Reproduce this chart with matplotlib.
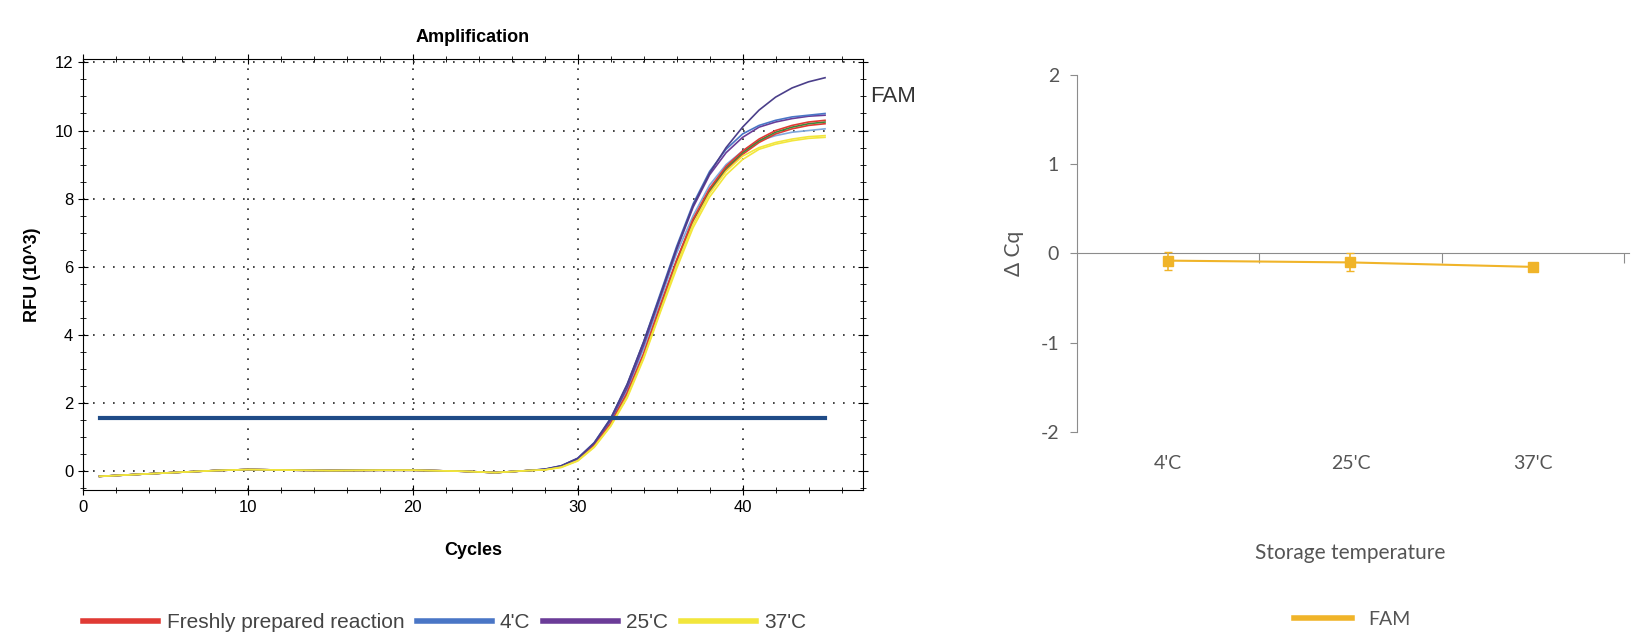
import matplotlib
matplotlib.use('Agg')
import matplotlib.pyplot as plt
from matplotlib.lines import Line2D
from matplotlib.ticker import MultipleLocator

plt.rcParams['font.family'] = ['Liberation Sans', 'DejaVu Sans']
plt.rcParams['axes.unicode_minus'] = False

# amplification curves, RFU (10^3) read at these cycles
cycles = [1, 3, 5, 8, 10, 13, 15, 18, 20, 23, 25, 27, 28, 29, 30, 31, 32, 33, 34, 35,
          36, 37, 38, 39, 40, 41, 42, 43, 44, 45]
base = [-0.15, -0.1, -0.05, 0.02, 0.05, 0.03, 0.02, 0.03, 0.03, 0.0, -0.04, 0.02]

fresh_a = base + [0.05, 0.14, 0.34, 0.76, 1.4, 2.3, 3.45, 4.85, 6.2, 7.4, 8.3, 8.95, 9.4, 9.75, 10.0, 10.15, 10.25, 10.3]
fresh_b = base + [0.05, 0.13, 0.33, 0.75, 1.38, 2.25, 3.4, 4.8, 6.15, 7.35, 8.2, 8.85, 9.3, 9.65, 9.9, 10.05, 10.15, 10.2]
c4_a = base + [0.06, 0.16, 0.38, 0.84, 1.55, 2.55, 3.8, 5.2, 6.6, 7.85, 8.8, 9.45, 9.9, 10.15, 10.3, 10.4, 10.45, 10.5]
c4_b = base + [0.05, 0.15, 0.36, 0.8, 1.47, 2.4, 3.6, 5.0, 6.4, 7.5, 8.4, 9.0, 9.4, 9.7, 9.85, 9.95, 10.0, 10.05]
c25_a = base + [0.06, 0.16, 0.38, 0.83, 1.55, 2.55, 3.8, 5.15, 6.55, 7.8, 8.75, 9.5, 10.1, 10.6, 10.98, 11.25, 11.43, 11.55]
c25_b = base + [0.05, 0.15, 0.37, 0.82, 1.5, 2.45, 3.7, 5.1, 6.5, 7.75, 8.7, 9.35, 9.8, 10.1, 10.25, 10.35, 10.42, 10.45]
c37_a = base + [0.04, 0.12, 0.31, 0.72, 1.34, 2.2, 3.35, 4.7, 6.05, 7.25, 8.15, 8.8, 9.25, 9.5, 9.65, 9.75, 9.82, 9.85]
c37_b = base + [0.04, 0.11, 0.3, 0.7, 1.32, 2.15, 3.3, 4.65, 5.95, 7.15, 8.05, 8.7, 9.15, 9.45, 9.6, 9.7, 9.77, 9.8]
green = base + [0.05, 0.14, 0.34, 0.76, 1.39, 2.28, 3.43, 4.83, 6.18, 7.38, 8.25, 8.9, 9.35, 9.7, 9.95, 10.1, 10.2, 10.25]
threshold = 1.55

# delta Cq vs storage temperature
temps = ["4'C", "25'C", "37'C"]
dcq = [-0.08, -0.1, -0.15]
dcq_err = [0.1, 0.1, 0.03]

red = '#e03a34'
blue = '#4a76c6'
purple = '#6b3c98'
yellow = '#f2e63c'
fam = '#f0b429'

fig = plt.figure(figsize=(16.35, 6.37), dpi=100)

# ---- left: amplification plot
ax = fig.add_axes([0.0508, 0.2308, 0.4770, 0.6766])
curves = [(c4_b, '#7fa8dc'), (fresh_b, red), (green, '#3a8a3a'), (fresh_a, red),
          (c25_b, purple), (c4_a, blue), (c25_a, '#4b3f8a'), (c37_a, yellow), (c37_b, yellow)]
for vals, col in curves:
    ax.plot(cycles, vals, color=col, lw=1.2)
ax.plot([cycles[0], cycles[-1]], [threshold, threshold], color='#1f4b87', lw=3)

ax.set_xlim(0, 47.3)
ax.set_ylim(-0.55, 12.1)
ax.xaxis.set_major_locator(MultipleLocator(10))
ax.xaxis.set_minor_locator(MultipleLocator(2))
ax.yaxis.set_major_locator(MultipleLocator(2))
ax.yaxis.set_minor_locator(MultipleLocator(0.5))
ax.tick_params(which='both', direction='inout', top=True, right=True, labelsize=12)
ax.tick_params(which='major', length=7)
ax.tick_params(which='minor', length=4)
ax.grid(True, which='major', color='#222222', linestyle=(0, (1, 5)), lw=1.2)
ax.set_title('Amplification', fontweight='bold', fontsize=13, pad=12)
ax.set_xlabel('Cycles', fontweight='bold', fontsize=13, labelpad=20)
ax.set_ylabel('RFU (10^3)', fontweight='bold', fontsize=13, labelpad=10)
fig.text(0.532, 0.84, 'FAM', fontsize=16, color='#333333')

handles = [Line2D([], [], color=c, lw=4) for c in [red, blue, purple, yellow]]
fig.legend(handles, ['Freshly prepared reaction', "4'C", "25'C", "37'C"],
           loc='center', bbox_to_anchor=(0.272, 0.022), ncol=4, frameon=False,
           fontsize=15, handlelength=3.6, columnspacing=0.6, handletextpad=0.4,
           labelcolor='#444444')

# ---- right: delta Cq plot
gray = '#8c8c8c'
txt = '#555555'
rfont = ['Lato', 'DejaVu Sans']
ax2 = fig.add_axes([0.6587, 0.3218, 0.3345, 0.5605])
xs = [i + 0.5 for i in range(len(temps))]
ax2.errorbar(xs, dcq, yerr=dcq_err, color=fam, marker='s', ms=7, lw=1.5,
             capsize=3, elinewidth=1.2, zorder=3)
ax2.set_xlim(0, 3)
ax2.set_ylim(-2, 2)
for s in ['top', 'right']:
    ax2.spines[s].set_visible(False)
ax2.spines['left'].set_color(gray)
ax2.spines['bottom'].set_position(('data', 0))
ax2.spines['bottom'].set_color(gray)
ax2.spines['bottom'].set_bounds(0, 3.03)
ax2.set_xticks([1, 2, 3])
ax2.set_xticklabels([])
ax2.tick_params(axis='x', direction='out', length=7, color=gray)
ax2.set_yticks([-2, -1, 0, 1, 2])
ax2.tick_params(axis='y', direction='out', length=5, color=gray, labelsize=14,
                labelcolor=txt, pad=8)
for lab in ax2.get_yticklabels():
    lab.set_family(rfont)
for x, t in zip(xs, temps):
    ax2.text(x, -2.35, t, ha='center', va='center', fontsize=14, color=txt, family=rfont)
ax2.text(1.5, -3.35, 'Storage temperature', ha='center', va='center', fontsize=15,
         color=txt, family=rfont)
ax2.set_ylabel('Δ Cq', fontsize=15, color=txt, labelpad=12, family=rfont)
fig.legend([Line2D([], [], color=fam, lw=4)], ['FAM'], loc='center',
           bbox_to_anchor=(0.827, 0.028), frameon=False, fontsize=14,
           handlelength=3, labelcolor=txt, prop={'family': rfont, 'size': 14})

fig.savefig('out.png', dpi=100)
